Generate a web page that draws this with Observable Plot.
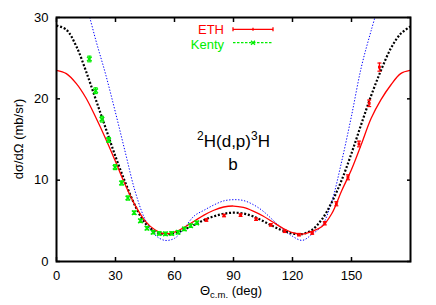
<!DOCTYPE html>
<html>
<head>
<meta charset="utf-8">
<script src="https://cdn.jsdelivr.net/npm/d3@7"></script>
<script src="https://cdn.jsdelivr.net/npm/@observablehq/plot@0.6"></script>
<style>
  html, body { margin: 0; padding: 0; background: #fff; }
  svg { display: block; }
</style>
</head>
<body>
<div id="chart"></div>
<script>
// ---- data ----
const xTicks = [0, 30, 60, 90, 120, 150];
const yTicks = [0, 10, 20, 30];

// ETH data (red): angle, cross section, error
const ethTheta = [76.2, 85.2, 93.6, 101.5, 109.0, 116.0, 123.3, 130.0, 136.4, 142.3, 148.2, 153.8, 159.0, 164.2];
const ethSigma = [5.1, 5.65, 5.7, 5.2, 4.5, 3.72, 3.3, 3.5, 4.7, 7.1, 10.35, 14.45, 19.45, 23.9];
const ethErr   = [0.15, 0.15, 0.15, 0.15, 0.15, 0.15, 0.15, 0.15, 0.2, 0.25, 0.3, 0.35, 0.4, 0.5];

// Kenty data (green)
const kentyTheta = [16.7, 19.9, 23.1, 26.5, 29.8, 33.1, 36.3, 39.5, 42.7, 46.0, 49.1, 52.2, 55.4, 58.6, 61.8, 65.0, 68.2, 71.3];
const kentySigma = [24.9, 21.0, 17.5, 14.95, 11.6, 9.65, 7.8, 6.0, 5.0, 4.1, 3.6, 3.45, 3.4, 3.45, 3.6, 4.0, 4.4, 4.75];
const kentyErr   = [0.35, 0.35, 0.35, 0.3, 0.3, 0.25, 0.25, 0.2, 0.2, 0.2, 0.2, 0.2, 0.2, 0.2, 0.2, 0.2, 0.2, 0.2];

// theory curves
const curveTheta = [0,5,10,15,20,25,30,35,40,45,50,55,60,65,70,75,80,85,90,95,100,105,110,115,120,125,130,135,140,145,150,155,160,165,170,175,180];
const redCurve   = [23.5,23.1,21.9,20.1,17.7,15.1,12.3,9.4,6.9,5.0,3.9,3.4,3.6,4.2,4.95,5.7,6.3,6.7,6.82,6.65,6.2,5.6,4.85,4.1,3.55,3.37,3.72,4.3,5.9,8.7,11.3,14.4,17.6,19.9,21.7,23.1,23.5];
const blackCurve = [29.0,28.5,26.5,23.4,19.9,16.4,12.9,9.7,6.85,4.75,3.7,3.37,3.5,3.95,4.5,5.1,5.55,5.87,6.0,5.9,5.55,4.98,4.35,3.8,3.45,3.37,3.9,5.2,7.3,10.0,13.3,16.9,20.4,23.5,26.2,28.0,28.9];
const blueTheta  = [15,20,25,30,35,40,45,50,55,60,65,70,75,80,85,90,95,100,105,110,115,120,125,130,135,140,145,150,155,160,165];
const blueCurve  = [31.8,27.2,23.0,18.3,13.4,8.6,5.2,3.3,2.6,2.85,4.1,5.6,6.3,6.95,7.45,7.6,7.5,7.0,6.2,5.1,4.0,3.1,2.6,3.37,4.4,7.4,12.3,17.9,23.9,28.4,32.5];

// ---- tables ----
const eth = ethTheta.map((t, i) => ({t, s: ethSigma[i], e: ethErr[i]}));
const kenty = kentyTheta.map((t, i) => ({t, s: kentySigma[i], e: kentyErr[i]}));
const red = curveTheta.map((t, i) => ({t, s: redCurve[i]}));
const black = curveTheta.map((t, i) => ({t, s: blackCurve[i]}));
const blue = blueTheta.map((t, i) => ({t, s: blueCurve[i]}));

const capSymbol = {draw(ctx, size) { const r = Math.sqrt(size / Math.PI); ctx.moveTo(-r, 0); ctx.lineTo(r, 0); }};

const RED = "#ff0000", GREEN = "#00ee00", BLUE = "#0000ff";

const svg = Plot.plot({
  width: 436, height: 305,
  marginLeft: 56, marginRight: 26, marginTop: 17, marginBottom: 44,
  style: {fontFamily: "'Liberation Sans', Arial, sans-serif", fontSize: "13px", color: "#000", background: "#fff"},
  x: {domain: [0, 180]},
  y: {domain: [0, 30]},
  marks: [
    // curves
    Plot.line(blue, {x: "t", y: "s", stroke: BLUE, strokeWidth: 1, strokeDasharray: "1.3,1.7", strokeLinecap: "butt", curve: "catmull-rom", clip: true}),
    Plot.line(black, {x: "t", y: "s", stroke: "#000", strokeWidth: 2.2, strokeDasharray: "2,1.8", strokeLinecap: "butt", curve: "catmull-rom", clip: true}),
    Plot.line(red, {x: "t", y: "s", stroke: RED, strokeWidth: 1.3, curve: "catmull-rom", clip: true}),
    // Kenty points
    Plot.ruleX(kenty, {x: "t", y1: d => d.s - d.e, y2: d => d.s + d.e, stroke: GREEN, strokeWidth: 1.2}),
    Plot.dot(kenty, {x: "t", y: d => d.s - d.e, symbol: capSymbol, r: 2, stroke: GREEN, strokeWidth: 1.2}),
    Plot.dot(kenty, {x: "t", y: d => d.s + d.e, symbol: capSymbol, r: 2, stroke: GREEN, strokeWidth: 1.2}),
    Plot.dot(kenty, {x: "t", y: "s", symbol: "times", r: 2.2, stroke: GREEN, strokeWidth: 1.5}),
    // ETH points
    Plot.ruleX(eth, {x: "t", y1: d => d.s - d.e, y2: d => d.s + d.e, stroke: RED, strokeWidth: 1.2}),
    Plot.dot(eth, {x: "t", y: d => d.s - d.e, symbol: capSymbol, r: 2, stroke: RED, strokeWidth: 1.2}),
    Plot.dot(eth, {x: "t", y: d => d.s + d.e, symbol: capSymbol, r: 2, stroke: RED, strokeWidth: 1.2}),
    Plot.dot(eth, {x: "t", y: "s", symbol: "square", r: 1.6, fill: RED}),
    // axes: labels
    Plot.axisX({ticks: xTicks, anchor: "bottom", tickSize: 0, tickPadding: 9, label: null}),
    Plot.axisY({ticks: yTicks, anchor: "left", tickSize: 0, tickPadding: 8, label: null}),
    // axes: inward ticks on all sides
    Plot.axisX({ticks: xTicks, anchor: "bottom", tickSize: 4, dy: -4, tickFormat: () => "", label: null, strokeWidth: 1.5}),
    Plot.axisX({ticks: xTicks, anchor: "top", tickSize: 4, dy: 4, tickFormat: () => "", label: null, strokeWidth: 1.5}),
    Plot.axisY({ticks: yTicks, anchor: "left", tickSize: 4, dx: 4, tickFormat: () => "", label: null, strokeWidth: 1.5}),
    Plot.axisY({ticks: yTicks, anchor: "right", tickSize: 4, dx: -4, tickFormat: () => "", label: null, strokeWidth: 1.5}),
    Plot.frame({stroke: "#000", strokeWidth: 2})
  ]
});

const s = d3.select(svg);
const ff = "'Liberation Sans', Arial, sans-serif";

// x-axis title
const xl = s.append("text").attr("x", 231).attr("y", 295).attr("text-anchor", "middle")
  .attr("font-family", ff).attr("font-size", 13).attr("fill", "#000");
xl.append("tspan").text("Θ");
xl.append("tspan").attr("font-size", 9.5).attr("dy", 3).text("c.m.");
xl.append("tspan").attr("dy", -3).text(" (deg)");

// y-axis title
s.append("text").attr("transform", "translate(22.5,139) rotate(-90)").attr("text-anchor", "middle")
  .attr("font-family", ff).attr("font-size", 13).attr("fill", "#000").text("dσ/dΩ (mb/sr)");

// reaction annotation
const t1 = s.append("text").attr("x", 233.5).attr("y", 146.7).attr("text-anchor", "middle")
  .attr("font-family", ff).attr("font-size", 17).attr("fill", "#000");
t1.append("tspan").attr("font-size", 12).attr("dy", -7).text("2");
t1.append("tspan").attr("dy", 7).text("H(d,p)");
t1.append("tspan").attr("font-size", 12).attr("dy", -7).text("3");
t1.append("tspan").attr("dy", 7).text("H");
s.append("text").attr("x", 233).attr("y", 170).attr("text-anchor", "middle")
  .attr("font-family", ff).attr("font-size", 17).attr("fill", "#000").text("b");

// legend
const lg = s.append("g");
lg.append("text").attr("x", 224).attr("y", 34).attr("text-anchor", "end")
  .attr("font-family", ff).attr("font-size", 13).attr("fill", RED).text("ETH");
lg.append("line").attr("x1", 233).attr("x2", 273).attr("y1", 29.3).attr("y2", 29.3).attr("stroke", RED).attr("stroke-width", 1.3);
[233, 273].forEach(x => lg.append("line").attr("x1", x).attr("x2", x).attr("y1", 27.3).attr("y2", 31.3).attr("stroke", RED).attr("stroke-width", 1.3));
lg.append("line").attr("x1", 253).attr("x2", 253).attr("y1", 27.8).attr("y2", 30.8).attr("stroke", RED).attr("stroke-width", 1.3);

lg.append("text").attr("x", 224).attr("y", 48.5).attr("text-anchor", "end")
  .attr("font-family", ff).attr("font-size", 13).attr("fill", GREEN).text("Kenty");
lg.append("line").attr("x1", 233).attr("x2", 273).attr("y1", 42.7).attr("y2", 42.7).attr("stroke", GREEN).attr("stroke-width", 1.3).attr("stroke-dasharray", "2.5,1.5");
lg.append("path").attr("d", "M251,40.7L255,44.7M251,44.7L255,40.7").attr("stroke", GREEN).attr("stroke-width", 1.3);

document.getElementById("chart").appendChild(svg);
</script>
</body>
</html>
